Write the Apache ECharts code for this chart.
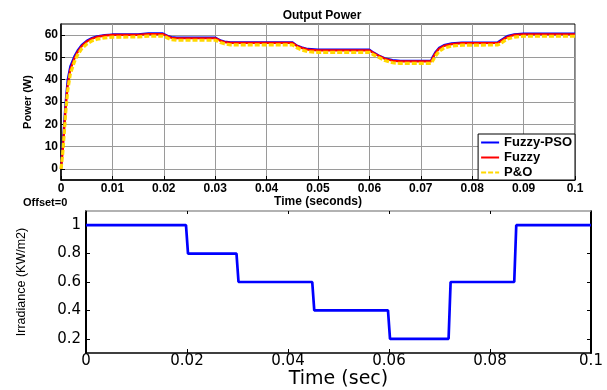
<!DOCTYPE html>
<html>
<head>
<meta charset="utf-8">
<script src="https://cdn.jsdelivr.net/npm/echarts@6/dist/echarts.min.js"></script>
<style>html,body{margin:0;padding:0;background:#fff}#c{width:607px;height:390px}</style>
</head>
<body>
<div id="c"></div>
<script>
// ---- data ----
const time = [0,0.0003,0.0006,0.0009,0.0013,0.0018,0.0026,0.0032,0.004,0.005,0.006,0.007,0.0085,0.01,0.015,0.017,0.0198,0.0203,0.0208,0.0215,0.0225,0.03,0.0305,0.031,0.0318,0.033,0.045,0.0455,0.046,0.0468,0.048,0.05,0.06,0.0608,0.0618,0.063,0.0645,0.066,0.072,0.0723,0.0728,0.0735,0.0745,0.076,0.078,0.085,0.0855,0.0862,0.087,0.0882,0.09,0.1];
const fuzzyPSO = [0,10,20,30,40,46,50.5,53,55.5,57.5,58.7,59.5,60,60.3,60.4,60.8,60.8,60.2,59.6,59.1,58.9,58.9,58.3,57.7,57.1,56.8,56.8,56,55.2,54.5,53.8,53.5,53.5,52.2,50.9,49.6,48.8,48.5,48.5,50.2,52.2,54.2,55.5,56.3,56.7,56.8,57.6,58.7,59.7,60.4,60.7,60.7];
const fuzzy = [0,7,17,27,37.5,44.5,49.5,52.3,55,57.1,58.4,59.2,59.8,60.1,60.1,60.5,60.5,60,59.4,58.8,58.6,58.6,58.1,57.5,56.9,56.5,56.5,55.8,55,54.3,53.5,53.2,53.2,52,50.7,49.4,48.5,48.2,48.2,49.6,51.7,53.8,55.2,56,56.4,56.5,57.2,58.3,59.3,60.1,60.4,60.4];
const pando = [0,6,15,25,35,42.5,48,51,53.8,56,57.4,58.2,58.8,59.1,59.2,59.6,59.6,59.2,58.6,58,57.7,57.7,57.3,56.7,56.1,55.6,55.6,55,54.2,53.4,52.6,52.3,52.3,51.2,50,48.6,47.6,47.3,47.3,48.4,50.4,52.6,54.2,55.1,55.5,55.6,56.2,57.3,58.4,59.1,59.5,59.5];
const irrTime = [0,0.0198,0.0202,0.0298,0.0302,0.0448,0.0452,0.0598,0.0602,0.0718,0.0722,0.0848,0.0852,0.1];
const irrValue = [1,1,0.8,0.8,0.6,0.6,0.4,0.4,0.2,0.2,0.6,0.6,1,1];
const powerTicks = [0,10,20,30,40,50,60];
const irrTicks = [0.2,0.4,0.6,0.8,1];
const timeTicksTop = [0,0.01,0.02,0.03,0.04,0.05,0.06,0.07,0.08,0.09,0.1];
const timeTicksBottom = [0,0.02,0.04,0.06,0.08,0.1];

const pair = (xs, ys) => xs.map((x, i) => [x, ys[i]]);
const fmt = v => String(+v.toFixed(4));

const boldFont = {fontFamily: 'Liberation Sans, Arial, sans-serif', fontWeight: 'bold', fontSize: 12, color: '#000'};
const wideFont = {fontFamily: 'DejaVu Sans, sans-serif', fontSize: 15, color: '#000'};

const chart = echarts.init(document.getElementById('c'), null, {renderer: 'canvas'});
chart.setOption({
  animation: false,
  backgroundColor: '#fff',
  title: {text: 'Output Power', left: 317, top: 5, textAlign: 'center',
    textStyle: Object.assign({}, boldFont, {fontSize: 12})},
  graphic: [{type: 'text', left: 23, top: 197, style: {text: 'Offset=0', font: 'bold 11px Liberation Sans, Arial, sans-serif', fill: '#000'}}],
  grid: [
    {left: 61, right: 32, top: 24, height: 156, show: true, borderColor: '#000', borderWidth: 1, backgroundColor: 'transparent'},
    {left: 86, right: 16, top: 211, height: 151, show: false}
  ],
  legend: {
    orient: 'vertical', right: 32, bottom: 210,
    backgroundColor: '#fff', borderColor: '#000', borderWidth: 1, borderRadius: 0,
    padding: [2, 3, 1, 2], itemWidth: 18, itemHeight: 8, itemGap: 2,
    itemStyle: {opacity: 0},
    textStyle: Object.assign({}, boldFont, {fontSize: 13, lineHeight: 11}),
    data: [{name: 'Fuzzy-PSO'}, {name: 'Fuzzy'}, {name: 'P&O'}]
  },
  xAxis: [
    {type: 'value', gridIndex: 0, min: 0, max: 0.1, interval: 0.01,
      axisLine: {show: true, onZero: false, lineStyle: {color: '#000', width: 1.5}},
      axisTick: {inside: true, length: 4, customValues: timeTicksTop, lineStyle: {color: '#000'}},
      axisLabel: {customValues: timeTicksTop, margin: 3, formatter: fmt, textStyle: boldFont},
      splitLine: {show: true, lineStyle: {color: '#9a9a9a', width: 1}},
      name: 'Time (seconds)', nameLocation: 'middle', nameGap: 13, nameTextStyle: boldFont},
    {type: 'value', gridIndex: 1, min: 0, max: 0.1, interval: 0.02,
      axisLine: {show: true, onZero: false, lineStyle: {color: '#000', width: 1.5}},
      axisTick: {inside: true, length: 4, customValues: timeTicksBottom, lineStyle: {color: '#000'}},
      axisLabel: Object.assign({customValues: timeTicksBottom, margin: 1, formatter: fmt}, wideFont),
      splitLine: {show: false},
      name: 'Time (sec)', nameLocation: 'middle', nameGap: 17,
      nameTextStyle: {fontFamily: 'DejaVu Sans, sans-serif', fontSize: 19, color: '#000'}},
    {type: 'value', gridIndex: 1, min: 0, max: 0.1, interval: 0.02, position: 'top',
      axisLine: {show: true, onZero: false, lineStyle: {color: '#999', width: 1.5}},
      axisTick: {inside: true, length: 3, customValues: timeTicksBottom, lineStyle: {color: '#000'}},
      axisLabel: {show: false}, splitLine: {show: false}}
  ],
  yAxis: [
    {type: 'value', gridIndex: 0, min: -5, max: 65,
      axisLine: {show: true, onZero: false, lineStyle: {color: '#000', width: 1.5}},
      axisTick: {inside: true, length: 4, customValues: powerTicks, lineStyle: {color: '#000'}},
      axisLabel: {customValues: powerTicks, margin: 3, textStyle: boldFont},
      splitLine: {show: true, lineStyle: {color: '#9a9a9a', width: 1}},
      name: 'Power (W)', nameLocation: 'middle', nameGap: 22, nameRotate: 90,
      nameTextStyle: Object.assign({}, boldFont, {fontSize: 11})},
    {type: 'value', gridIndex: 1, min: 0.1, max: 1.1,
      axisLine: {show: true, onZero: false, lineStyle: {color: '#000', width: 2}},
      axisTick: {inside: true, length: 4, customValues: irrTicks, lineStyle: {color: '#000'}},
      axisLabel: Object.assign({customValues: irrTicks, margin: 5, formatter: fmt}, wideFont),
      splitLine: {show: false},
      name: 'Irradiance (KW/m2)', nameLocation: 'middle', nameGap: 58, nameRotate: 90,
      nameTextStyle: {fontFamily: 'Liberation Sans, sans-serif', fontSize: 12.5, color: '#000'}},
    {type: 'value', gridIndex: 1, min: 0.1, max: 1.1, position: 'right',
      axisLine: {show: true, onZero: false, lineStyle: {color: '#000', width: 2}},
      axisTick: {inside: true, length: 4, customValues: irrTicks, lineStyle: {color: '#000'}},
      axisLabel: {show: false}, splitLine: {show: false}}
  ],
  series: [
    {name: 'Fuzzy-PSO', type: 'line', xAxisIndex: 0, yAxisIndex: 0, symbol: 'none', smooth: false,
      data: pair(time, fuzzyPSO), lineStyle: {color: '#0000ff', width: 2.2}, itemStyle: {color: '#0000ff'}, z: 3},
    {name: 'Fuzzy', type: 'line', xAxisIndex: 0, yAxisIndex: 0, symbol: 'none',
      data: pair(time, fuzzy), lineStyle: {color: '#ff0000', width: 2.2}, itemStyle: {color: '#ff0000'}, z: 4},
    {name: 'P&O', type: 'line', xAxisIndex: 0, yAxisIndex: 0, symbol: 'none',
      data: pair(time, pando), lineStyle: {color: '#ffd800', width: 3.2, type: [5, 2]}, itemStyle: {color: '#ffd800'}, z: 5},
    {name: 'Irradiance', type: 'line', xAxisIndex: 1, yAxisIndex: 1, symbol: 'none',
      data: pair(irrTime, irrValue), lineStyle: {color: '#0000ff', width: 2.7}, itemStyle: {color: '#0000ff'}}
  ]
});
</script>
</body>
</html>
